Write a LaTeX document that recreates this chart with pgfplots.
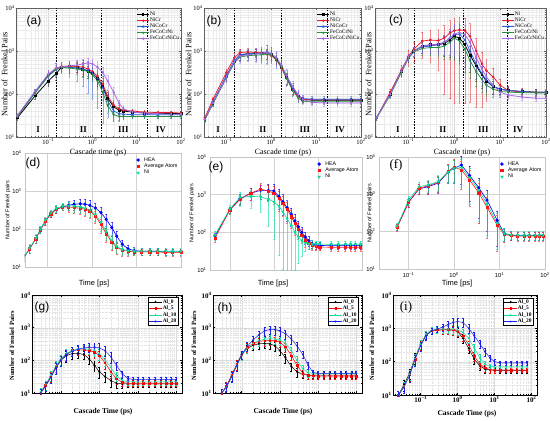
\documentclass[border=0pt]{standalone}
\usepackage{pgfplots}
\usepackage{pgfplotstable}
\pgfplotsset{compat=1.18}
\usepackage{fontspec}
\setmainfont{Liberation Serif}
\newfontfamily\arial{Liberation Sans}

\definecolor{rA}{RGB}{230,30,40}
\definecolor{bA}{RGB}{40,90,220}
\definecolor{gA}{RGB}{40,140,70}
\definecolor{pA}{RGB}{165,105,230}
\definecolor{hea}{RGB}{0,0,255}
\definecolor{avg}{RGB}{255,20,20}
\definecolor{niB}{RGB}{0,225,150}
\definecolor{al5}{RGB}{255,0,0}
\definecolor{al10}{RGB}{30,215,160}
\definecolor{al20}{RGB}{30,30,235}

\pgfplotstableread{
x Ni NiCr NiCoCr FeCoCrNi FeCoCrNiCu e E
0.02 28 30 30 30 32 0.1 0.1
0.05 90 110 110 105 115 0.15 0.2
0.1 200 280 270 260 290 0.25 0.3
0.15 300 400 380 370 400 0.3 0.35
0.2 420 440 430 410 430 0.2 0.3
0.3 430 440 420 400 450 0.25 0.4
0.45 420 440 400 380 470 0.25 0.5
0.6 380 420 380 360 500 0.3 0.6
0.8 340 380 350 330 530 0.3 0.7
1.0 300 330 300 280 500 0.3 0.75
1.3 230 260 230 200 420 0.35 0.8
1.7 150 170 140 110 320 0.35 0.85
2.2 80 90 70 55 200 0.35 0.6
3 50 55 40 33 110 0.3 0.4
4 42 45 35 30 60 0.2 0.3
5 40 42 34 30 45 0.15 0.2
8 38 40 33 30 38 0.1 0.15
15 36 38 33 30 36 0.1 0.15
30 35 37 33 30 35 0.1 0.15
60 35 37 33 30 34 0.1 0.15
100 35 36 33 30 34 0.1 0.15
}\tA

\pgfplotstableread{
x Ni NiCr NiCoCr FeCoCrNi FeCoCrNiCu e E
0.033 26 28 26 25 26 0.1 0.1
0.05 60 75 65 60 62 0.15 0.15
0.1 250 320 270 240 250 0.2 0.25
0.15 560 700 600 530 560 0.25 0.3
0.2 780 920 820 720 760 0.2 0.3
0.3 880 950 860 780 820 0.2 0.3
0.45 900 930 880 800 850 0.2 0.35
0.6 900 900 900 820 880 0.25 0.4
0.8 880 850 950 850 920 0.25 0.45
1.0 820 780 870 800 860 0.25 0.4
1.3 650 620 680 640 700 0.25 0.4
1.7 420 400 440 420 460 0.3 0.4
2.2 240 230 250 230 270 0.3 0.4
3 130 125 135 120 150 0.25 0.35
4 90 88 92 80 95 0.2 0.3
5 75 75 78 68 75 0.15 0.2
8 72 74 76 66 64 0.1 0.15
15 72 74 76 66 62 0.1 0.15
30 72 74 76 66 62 0.1 0.15
60 72 74 76 66 62 0.1 0.15
100 72 74 76 66 62 0.1 0.15
}\tB

\pgfplotstableread{
x Ni NiCr NiCoCr FeCoCrNi FeCoCrNiCu e E
0.02 28 28 28 27 28 0.1 0.1
0.04 100 110 100 95 100 0.15 0.2
0.07 330 360 340 320 340 0.2 0.3
0.1 700 750 700 680 720 0.2 0.4
0.13 1000 1100 1000 950 1000 0.25 0.5
0.2 1300 1700 1250 1150 1300 0.3 0.6
0.3 1400 1800 1300 1200 1400 0.35 0.7
0.45 1400 1750 1400 1200 1450 0.4 0.8
0.6 1500 2000 1600 1300 1600 0.5 0.95
0.8 1800 2600 2000 1600 2000 0.6 0.97
1.0 2200 3000 2400 2000 2500 0.7 0.98
1.3 2000 3100 2500 1700 2700 0.7 0.98
1.7 1400 3000 1800 1100 2400 0.7 0.98
2.2 800 2200 1000 600 1600 0.6 0.97
3 450 1000 500 330 700 0.55 0.95
4 280 500 300 220 380 0.5 0.9
5 200 350 210 160 250 0.45 0.8
7 150 250 150 130 160 0.35 0.6
10 130 160 130 115 110 0.25 0.4
15 120 120 120 110 95 0.2 0.3
30 115 112 115 108 85 0.15 0.2
60 110 110 110 106 80 0.15 0.2
100 110 110 110 105 80 0.1 0.15
}\tC

\pgfplotstableread{
x HEA Avg Ni e
0.03 18 18 18 0.2
0.04 30 30 31 0.25
0.055 55 55 57 0.25
0.07 95 95 100 0.2
0.09 160 160 170 0.2
0.12 250 250 265 0.2
0.16 330 330 350 0.2
0.22 380 380 400 0.2
0.3 420 380 410 0.25
0.4 450 370 400 0.3
0.55 460 350 380 0.3
0.7 450 330 350 0.35
0.9 420 300 310 0.35
1.2 360 220 240 0.35
1.6 270 130 150 0.4
2.1 180 75 85 0.4
2.8 110 45 50 0.4
3.6 65 33 35 0.35
4.8 40 28 29 0.3
6.5 30 26 27 0.25
9 27 25 26 0.2
13 26 25 26 0.2
20 26 25 26 0.2
30 26 25 26 0.2
45 25 24 26 0.2
65 25 24 26 0.2
100 25 24 26 0.2
}\tD

\pgfplotstableread{
x HEA Avg Ni e E
0.046 80 70 85 0.2 0.25
0.1 400 390 410 0.2 0.25
0.17 780 750 850 0.3 0.4
0.3 1100 1100 900 0.35 0.5
0.5 1300 1400 880 0.4 0.6
0.75 1300 1250 750 0.45 0.8
1.0 1250 1100 650 0.5 0.9
1.3 900 800 500 0.55 0.95
1.6 650 600 350 0.55 0.97
2.0 450 400 230 0.55 0.98
2.5 300 260 150 0.5 0.95
3.0 200 170 100 0.5 0.9
3.6 140 120 75 0.45 0.8
4.3 100 85 60 0.4 0.6
5.2 75 62 52 0.35 0.4
6.2 60 50 50 0.3 0.3
7.5 50 45 49 0.25 0.25
9 46 42 49 0.2 0.2
11 45 41 49 0.2 0.2
20 44 40 48 0.2 0.2
29 44 40 48 0.2 0.2
42 44 40 48 0.2 0.2
55 44 40 48 0.2 0.2
71 44 40 48 0.2 0.2
93 44 40 48 0.2 0.2
}\tE

\pgfplotstableread{
x HEA Avg Ni e
0.056 134 130 140 0.2
0.1 620 600 700 0.25
0.17 1400 1450 1600 0.3
0.27 1600 1700 1800 0.35
0.45 2000 2100 2200 0.45
0.75 4000 4200 4000 0.5
1.0 5000 5400 5000 0.6
1.45 6100 4500 5200 0.7
2.2 3200 2400 2800 0.8
3.5 1500 1100 1300 0.85
5.3 700 450 550 0.85
8.9 200 150 170 0.8
12.7 90 85 90 0.4
18 80 78 82 0.25
25 78 76 80 0.25
35 78 76 80 0.25
45 78 76 80 0.25
60 78 76 80 0.25
75 78 76 80 0.25
90 78 76 80 0.25
}\tF

\pgfplotstableread{
x A0 A5 A10 A20 e
0.03 10 10 11 10 0.3
0.04 17 17 18 16 0.3
0.055 32 33 35 30 0.35
0.075 60 65 68 60 0.35
0.1 100 110 110 100 0.35
0.14 140 160 160 150 0.35
0.2 160 200 200 190 0.3
0.28 165 210 220 220 0.3
0.4 150 210 225 240 0.3
0.55 110 200 220 250 0.3
0.75 70 180 200 250 0.35
1.0 45 140 160 240 0.35
1.4 32 85 105 200 0.35
2 24 45 60 130 0.35
2.8 20 27 33 70 0.3
4 19 21 24 38 0.25
5.5 19 20 22 28 0.2
7.5 19 20 22 26 0.2
10 19 20 22 26 0.2
14 19 20 22 26 0.2
20 19 20 22 26 0.2
28 19 20 22 26 0.2
40 19 20 22 26 0.2
55 19 20 22 26 0.2
75 19 20 22 26 0.2
100 19 20 22 26 0.2
}\tG

\pgfplotstableread{
x A0 A5 A10 A20 e
0.03 10 10 10 10 0.3
0.04 16 16 15 15 0.3
0.055 35 35 32 32 0.35
0.075 75 75 70 70 0.35
0.1 150 150 140 150 0.3
0.14 230 250 240 270 0.3
0.2 290 330 330 420 0.3
0.28 320 380 400 600 0.3
0.4 330 400 440 800 0.3
0.55 320 410 460 880 0.3
0.75 280 400 450 870 0.3
1.0 200 360 420 800 0.3
1.4 120 260 330 650 0.3
2 65 140 200 450 0.3
2.8 45 70 100 280 0.3
4 37 40 55 150 0.25
5.5 35 35 42 70 0.25
7.5 35 34 40 42 0.2
10 35 33 40 40 0.2
14 35 33 40 40 0.2
20 35 33 40 40 0.2
28 35 33 40 40 0.2
40 35 33 40 40 0.2
55 35 33 40 40 0.2
75 35 33 40 40 0.2
100 35 33 40 40 0.2
}\tH

\pgfplotstableread{
x A0 A5 A10 A20 e
0.025 10 10 10 10 0.3
0.035 20 18 18 17 0.35
0.05 45 40 42 38 0.35
0.07 130 120 125 115 0.35
0.1 330 320 330 300 0.3
0.14 650 650 680 600 0.25
0.2 850 850 880 850 0.2
0.28 880 900 920 950 0.2
0.4 900 920 950 1100 0.25
0.55 900 920 950 1300 0.25
0.75 880 900 940 1500 0.3
1.0 800 820 900 1600 0.3
1.4 500 600 750 1500 0.3
2 250 320 500 1000 0.3
2.8 120 150 260 600 0.3
4 75 85 130 350 0.25
5.5 60 65 85 200 0.25
7.5 57 58 72 130 0.2
10 55 56 70 100 0.2
14 55 56 70 92 0.15
20 55 56 70 92 0.15
28 55 56 70 92 0.15
40 55 56 70 92 0.15
55 55 56 70 92 0.15
75 55 56 70 92 0.15
}\tI

\pgfplotsset{
 lookA/.style={
   ytick={10,100,1000,10000}, xtick={0.1,1,10,100},
   minor ytick={20,30,40,50,60,70,80,90,200,300,400,500,600,700,800,900,2000,3000,4000,5000,6000,7000,8000,9000},
   minor xtick={0.02,0.03,0.04,0.05,0.06,0.07,0.08,0.09,0.2,0.3,0.4,0.5,0.6,0.7,0.8,0.9,2,3,4,5,6,7,8,9,20,30,40,50,60,70,80,90},
   legend cell align=left,
   yticklabels={10\textsuperscript{1},10\textsuperscript{2},10\textsuperscript{3},10\textsuperscript{4}},
   xticklabels={10\textsuperscript{−1},10\textsuperscript{0},10\textsuperscript{1},10\textsuperscript{2}},
   axis line style={gray!75!black, line width=0.5pt},
   grid=both, major grid style={gray!30, line width=0.3pt}, minor grid style={gray!16, line width=0.2pt},
   tick label style={font=\fontsize{6.5}{7}\selectfont},
   xticklabel style={inner sep=1.5pt}, yticklabel style={inner sep=1.2pt},
   tick style={gray!75!black, line width=0.4pt},
   major tick length=2.2bp, minor tick length=1.2bp,
   legend image post style={xscale=0.7},
   legend style={at={(0.995,0.975)}, anchor=north east, draw=none, fill=none,
     font=\fontsize{5.5}{6}\selectfont, inner sep=0.3pt, row sep=0pt,
     nodes={inner sep=0.45pt}},
 },
 lookB/.style={
   ytick={10,100,1000,10000}, xtick={0.1,1,10,100},
   legend cell align=left,
   yticklabels={10\textsuperscript{1},10\textsuperscript{2},10\textsuperscript{3},10\textsuperscript{4}},
   xticklabels={10\textsuperscript{−1},10\textsuperscript{0},10\textsuperscript{1},10\textsuperscript{2}},
   axis line style={gray!45, line width=0.5pt},
   grid=major, major grid style={gray!35, line width=0.35pt},
   minor tick length=0pt, major tick length=0pt,
   tick label style={font=\arial\fontsize{5.8}{6.5}\selectfont},
   legend style={at={(0.985,0.97)}, anchor=north east, draw=none, fill=none,
     font=\arial\fontsize{5.3}{6}\selectfont, inner sep=0.3pt, row sep=0pt,
     nodes={inner sep=0.6pt},
     /tikz/every odd column/.append style={column sep=4pt}},
 },
 lookC/.style={
   ytick={10,100,1000,10000}, xtick={0.1,1,10,100},
   minor ytick={20,30,40,50,60,70,80,90,200,300,400,500,600,700,800,900,2000,3000,4000,5000,6000,7000,8000,9000},
   minor xtick={0.02,0.03,0.04,0.05,0.06,0.07,0.08,0.09,0.2,0.3,0.4,0.5,0.6,0.7,0.8,0.9,2,3,4,5,6,7,8,9,20,30,40,50,60,70,80,90},
   legend cell align=left,
   yticklabels={10\textsuperscript{1},10\textsuperscript{2},10\textsuperscript{3},10\textsuperscript{4}},
   xticklabels={10\textsuperscript{−1},10\textsuperscript{0},10\textsuperscript{1},10\textsuperscript{2}},
   axis line style={black, line width=0.6pt},
   grid=both, major grid style={gray!28, line width=0.3pt}, minor grid style={gray!22, densely dotted, line width=0.25pt},
   tick label style={font=\bfseries\fontsize{7}{7.5}\selectfont},
   xticklabel style={inner sep=1.2pt}, yticklabel style={inner sep=1.2pt},
   tick style={black, line width=0.4pt}, tick align=inside,
   major tick length=2.2bp, minor tick length=1.3bp,
   legend image post style={xscale=0.75},
   legend style={at={(0.975,0.975)}, anchor=north east, draw=black, line width=0.4pt, fill=white,
     font=\bfseries\fontsize{5.5}{6}\selectfont, inner sep=1pt, row sep=0pt,
     nodes={inner sep=0.6pt}},
 },
 ebA/.style={error bars/y dir=both, error bars/y explicit relative,
   error bars/error bar style={line width=0.3pt, opacity=0.5},
   error bars/error mark options={rotate=90, mark size=0.8pt, line width=0.3pt, opacity=0.5}},
 ebB/.style={error bars/y dir=both, error bars/y explicit relative,
   error bars/error bar style={line width=0.35pt, opacity=0.6},
   error bars/error mark options={rotate=90, mark size=1pt, line width=0.35pt, opacity=0.6}},
 ebC/.style={error bars/y dir=both, error bars/y explicit relative,
   error bars/error bar style={line width=0.35pt},
   error bars/error mark options={rotate=90, mark size=1pt, line width=0.35pt}},
 sA/.style={line width=0.75pt, mark size=0.9pt},
 sB/.style={line width=0.6pt, mark size=1.3pt},
 sC/.style={line width=0.5pt, mark size=0.8pt},
 vd/.style={forget plot, black, line width=0.4pt, dash pattern=on 1.6pt off 1.2pt},
}

\begin{document}
\begin{tikzpicture}
\useasboundingbox (0,0) rectangle (550bp,-421bp);

% ---------------- (a)
\begin{axis}[scale only axis, xmode=log, ymode=log, ymin=10, ymax=10000, xmin=0.0186, xmax=100, lookA,
  at={(16bp,-137bp)}, anchor=south west, width=165bp, height=129bp]
\addplot[vd] coordinates {(0.15,10) (0.15,10000)};
\addplot[vd] coordinates {(1.6,10) (1.6,10000)};
\addplot[vd] coordinates {(17,10) (17,10000)};
\addplot[sA, black, mark=square*, ebA] table[x=x,y=Ni,y error=e]{\tA};
\addplot[sA, rA, mark=*, ebA] table[x=x,y=NiCr,y error=e]{\tA};
\addplot[sA, bA, mark=triangle*, ebA] table[x=x,y=NiCoCr,y error=E]{\tA};
\addplot[sA, gA, mark=triangle*, mark options={rotate=180}, ebA] table[x=x,y=FeCoCrNi,y error=e]{\tA};
\addplot[sA, pA, mark=diamond*, ebA] table[x=x,y=FeCoCrNiCu,y error=e]{\tA};
\legend{Ni,NiCr,NiCoCr,FeCoCrNi,FeCoCrNiCu}
\node[font=\bfseries\fontsize{9}{10}\selectfont] at (axis cs:0.059,14.5) {I};
\node[font=\bfseries\fontsize{9}{10}\selectfont] at (axis cs:0.62,14.5) {II};
\node[font=\bfseries\fontsize{9}{10}\selectfont] at (axis cs:5,14.5) {III};
\node[font=\bfseries\fontsize{9}{10}\selectfont] at (axis cs:35,14.5) {IV};
\end{axis}

% ---------------- (b)
\begin{axis}[scale only axis, xmode=log, ymode=log, ymin=10, ymax=10000, xmin=0.0316, xmax=100, lookA,
  at={(204bp,-137bp)}, anchor=south west, width=157bp, height=129bp]
\addplot[vd] coordinates {(0.15,10) (0.15,10000)};
\addplot[vd] coordinates {(1.65,10) (1.65,10000)};
\addplot[vd] coordinates {(17.5,10) (17.5,10000)};
\addplot[sA, black, mark=square*, ebA] table[x=x,y=Ni,y error=e]{\tB};
\addplot[sA, rA, mark=*, ebA] table[x=x,y=NiCr,y error=e]{\tB};
\addplot[sA, bA, mark=triangle*, ebA] table[x=x,y=NiCoCr,y error=E]{\tB};
\addplot[sA, gA, mark=triangle*, mark options={rotate=180}, ebA] table[x=x,y=FeCoCrNi,y error=e]{\tB};
\addplot[sA, pA, mark=diamond*, ebA] table[x=x,y=FeCoCrNiCu,y error=E]{\tB};
\legend{Ni,NiCr,NiCoCr,FeCoCrNi,FeCoCrNiCu}
\node[font=\bfseries\fontsize{9}{10}\selectfont] at (axis cs:0.065,14.5) {I};
\node[font=\bfseries\fontsize{9}{10}\selectfont] at (axis cs:0.65,14.5) {II};
\node[font=\bfseries\fontsize{9}{10}\selectfont] at (axis cs:5.6,14.5) {III};
\node[font=\bfseries\fontsize{9}{10}\selectfont] at (axis cs:34,14.5) {IV};
\end{axis}

% ---------------- (c)
\begin{axis}[scale only axis, xmode=log, ymode=log, ymin=10, ymax=10000, xmin=0.0186, xmax=100, lookA,
  at={(375bp,-137bp)}, anchor=south west, width=171bp, height=129bp]
\addplot[vd] coordinates {(0.136,10) (0.136,10000)};
\addplot[vd] coordinates {(1.55,10) (1.55,10000)};
\addplot[vd] coordinates {(14,10) (14,10000)};
\addplot[sA, black, mark=square*, ebA] table[x=x,y=Ni,y error=e]{\tC};
\addplot[sA, rA, mark=*, ebA] table[x=x,y=NiCr,y error=E]{\tC};
\addplot[sA, bA, mark=triangle*, ebA] table[x=x,y=NiCoCr,y error=e]{\tC};
\addplot[sA, gA, mark=triangle*, mark options={rotate=180}, ebA] table[x=x,y=FeCoCrNi,y error=e]{\tC};
\addplot[sA, pA, mark=diamond*, ebA] table[x=x,y=FeCoCrNiCu,y error=e]{\tC};
\legend{Ni,NiCr,NiCoCr,FeCoCrNi,FeCoCrNiCu}
\node[font=\bfseries\fontsize{9}{10}\selectfont] at (axis cs:0.059,14.5) {I};
\node[font=\bfseries\fontsize{9}{10}\selectfont] at (axis cs:0.56,14.5) {II};
\node[font=\bfseries\fontsize{9}{10}\selectfont] at (axis cs:4.3,14.5) {III};
\node[font=\bfseries\fontsize{9}{10}\selectfont] at (axis cs:24.5,14.5) {IV};
\end{axis}

% ---------------- (d)
\begin{axis}[scale only axis, xmode=log, ymode=log, ymin=10, ymax=10000, xmin=0.0316, xmax=100, lookB, xticklabels={},
  at={(25bp,-267bp)}, anchor=south west, width=156bp, height=114bp]
\addplot[sB, forget plot, hea, mark=*, ebB] table[x=x,y=HEA,y error=e]{\tD};
\addplot[sB, forget plot, avg, mark=square*, mark size=1.1pt, ebB] table[x=x,y=Avg,y error=e]{\tD};
\addplot[sB, forget plot, niB, mark=triangle*, mark options={rotate=180}, ebB] table[x=x,y=Ni,y error=e]{\tD};
\addlegendimage{only marks, mark=*, hea, mark size=1.5pt}\addlegendentry{HEA}
\addlegendimage{only marks, mark=square*, avg, mark size=1.3pt}\addlegendentry{Average Atom}
\addlegendimage{only marks, mark=triangle*, mark options={rotate=180}, niB, mark size=1.6pt}\addlegendentry{Ni}
\end{axis}

% ---------------- (e)
\begin{axis}[scale only axis, xmode=log, ymode=log, ymin=10, ymax=10000, xmin=0.0355, xmax=100, lookB, xticklabels={},
  at={(210bp,-270bp)}, anchor=south west, width=152bp, height=113bp]
\addplot[sB, forget plot, hea, mark=*, ebB] table[x=x,y=HEA,y error=e]{\tE};
\addplot[sB, forget plot, avg, mark=square*, mark size=1.1pt, ebB] table[x=x,y=Avg,y error=e]{\tE};
\addplot[sB, forget plot, niB, mark=triangle*, mark options={rotate=180}, ebB] table[x=x,y=Ni,y error=E]{\tE};
\addlegendimage{only marks, mark=*, hea, mark size=1.5pt}\addlegendentry{HEA}
\addlegendimage{only marks, mark=square*, avg, mark size=1.3pt}\addlegendentry{Average Atom}
\addlegendimage{only marks, mark=triangle*, mark options={rotate=180}, niB, mark size=1.6pt}\addlegendentry{Ni}
\end{axis}

% ---------------- (f)
\begin{axis}[scale only axis, xmode=log, ymode=log, ymin=10, ymax=10000, xmin=0.0224, xmax=100, lookB,
  at={(379bp,-269bp)}, anchor=south west, width=166bp, height=112bp]
\addplot[sB, forget plot, hea, mark=*, ebB] table[x=x,y=HEA,y error=e]{\tF};
\addplot[sB, forget plot, avg, mark=square*, mark size=1.1pt, ebB] table[x=x,y=Avg,y error=e]{\tF};
\addplot[sB, forget plot, niB, mark=triangle*, mark options={rotate=180}, ebB] table[x=x,y=Ni,y error=e]{\tF};
\addlegendimage{only marks, mark=*, hea, mark size=1.5pt}\addlegendentry{HEA}
\addlegendimage{only marks, mark=square*, avg, mark size=1.3pt}\addlegendentry{Average Atom}
\addlegendimage{only marks, mark=triangle*, mark options={rotate=180}, niB, mark size=1.6pt}\addlegendentry{Ni}
\end{axis}

% ---------------- (g)
\begin{axis}[scale only axis, xmode=log, ymode=log, ymin=10, ymax=10000, xmin=0.0178, xmax=141, lookC, xticklabels={},
  at={(32bp,-393bp)}, anchor=south west, width=150bp, height=98bp]
\addplot[sC, black, mark=*, ebC] table[x=x,y=A0,y error=e]{\tG};
\addplot[sC, al5, mark=square*, ebC] table[x=x,y=A5,y error=e]{\tG};
\addplot[sC, al10, mark=triangle*, ebC] table[x=x,y=A10,y error=e]{\tG};
\addplot[sC, al20, mark=triangle*, mark options={rotate=180}, ebC] table[x=x,y=A20,y error=e]{\tG};
\legend{Al\_0,Al\_5,Al\_10,Al\_20}
\end{axis}

% ---------------- (h)
\begin{axis}[scale only axis, xmode=log, ymode=log, ymin=10, ymax=10000, xmin=0.0178, xmax=141, lookC, xticklabels={},
  at={(213bp,-393bp)}, anchor=south west, width=149bp, height=98bp]
\addplot[sC, black, mark=*, ebC] table[x=x,y=A0,y error=e]{\tH};
\addplot[sC, al5, mark=square*, ebC] table[x=x,y=A5,y error=e]{\tH};
\addplot[sC, al10, mark=triangle*, ebC] table[x=x,y=A10,y error=e]{\tH};
\addplot[sC, al20, mark=triangle*, mark options={rotate=180}, ebC] table[x=x,y=A20,y error=e]{\tH};
\legend{Al\_0,Al\_5,Al\_10,Al\_20}
\end{axis}

% ---------------- (i)
\begin{axis}[scale only axis, xmode=log, ymode=log, ymin=10, ymax=10000, xmin=0.0178, xmax=141, lookC,
  at={(393bp,-395bp)}, anchor=south west, width=144bp, height=100bp]
\addplot[sC, black, mark=*, ebC] table[x=x,y=A0,y error=e]{\tI};
\addplot[sC, al5, mark=square*, ebC] table[x=x,y=A5,y error=e]{\tI};
\addplot[sC, al10, mark=triangle*, ebC] table[x=x,y=A10,y error=e]{\tI};
\addplot[sC, al20, mark=triangle*, mark options={rotate=180}, ebC] table[x=x,y=A20,y error=e]{\tI};
\legend{Al\_0,Al\_5,Al\_10,Al\_20}
\end{axis}

% ---------------- labels
\node[font=\arial\fontsize{12}{12}\selectfont] at (34bp,-21bp) {(a)};
\node[font=\arial\fontsize{12}{12}\selectfont] at (214bp,-21bp) {(b)};
\node[font=\arial\fontsize{12}{12}\selectfont] at (396bp,-20bp) {(c)};
\node[font=\arial\fontsize{12}{12}\selectfont] at (33bp,-163bp) {(d)};
\node[font=\arial\fontsize{12}{12}\selectfont] at (216bp,-167bp) {(e)};
\node[font=\fontsize{13}{13}\selectfont] at (396bp,-165bp) {(f)};
\node[font=\arial\fontsize{12}{12}\selectfont] at (42bp,-307bp) {(g)};
\node[font=\arial\fontsize{12}{12}\selectfont] at (225bp,-308bp) {(h)};
\node[font=\fontsize{13}{13}\selectfont] at (406bp,-307bp) {(i)};

\node[rotate=90, font=\fontsize{8.3}{9}\selectfont] at (4.5bp,-74bp) {Number of\ \ Frenkel Pairs};
\node[rotate=90, font=\fontsize{8.3}{9}\selectfont] at (188.5bp,-74bp) {Number of\ \ Frenkel Pairs};
\node[rotate=90, font=\fontsize{8.3}{9}\selectfont] at (368.5bp,-74bp) {Number of\ \ Frenkel Pairs};
\node[font=\fontsize{8}{9}\selectfont] at (98bp,-152.5bp) {Cascade time\,(ps)};
\node[font=\fontsize{8}{9}\selectfont] at (283bp,-152.5bp) {Cascade time\,(ps)};
\node[font=\fontsize{8}{9}\selectfont] at (462bp,-152.5bp) {Cascade time\,(ps)};

\node[rotate=90, font=\arial\fontsize{5.5}{6}\selectfont] at (8bp,-210bp) {Number of Frenkel pairs};
\node[rotate=90, font=\arial\fontsize{5.5}{6}\selectfont] at (192bp,-213bp) {Number of Frenkel pairs};
\node[rotate=90, font=\arial\fontsize{5.5}{6}\selectfont] at (370bp,-213bp) {Number of Frenkel pairs};
\node[font=\arial\fontsize{7.5}{8}\selectfont] at (94bp,-284bp) {Time [ps]};
\node[font=\arial\fontsize{7.5}{8}\selectfont] at (273bp,-284bp) {Time [ps]};
\node[font=\arial\fontsize{7.5}{8}\selectfont] at (457bp,-284bp) {Time [ps]};

\node[rotate=90, font=\bfseries\fontsize{6.5}{7}\selectfont] at (12bp,-346bp) {Number of Frenkel Pairs};
\node[rotate=90, font=\bfseries\fontsize{6.5}{7}\selectfont] at (194bp,-346bp) {Number of Frenkel Pairs};
\node[rotate=90, font=\bfseries\fontsize{6.5}{7}\selectfont] at (372bp,-346bp) {Number of Frenkel Pairs};
\node[font=\bfseries\fontsize{7.5}{8}\selectfont] at (103bp,-412bp) {Cascade Time (ps)};
\node[font=\bfseries\fontsize{7.5}{8}\selectfont] at (283bp,-412bp) {Cascade Time (ps)};
\node[font=\bfseries\fontsize{7.5}{8}\selectfont] at (467bp,-414bp) {Cascade Time (ps)};
\end{tikzpicture}
\end{document}
